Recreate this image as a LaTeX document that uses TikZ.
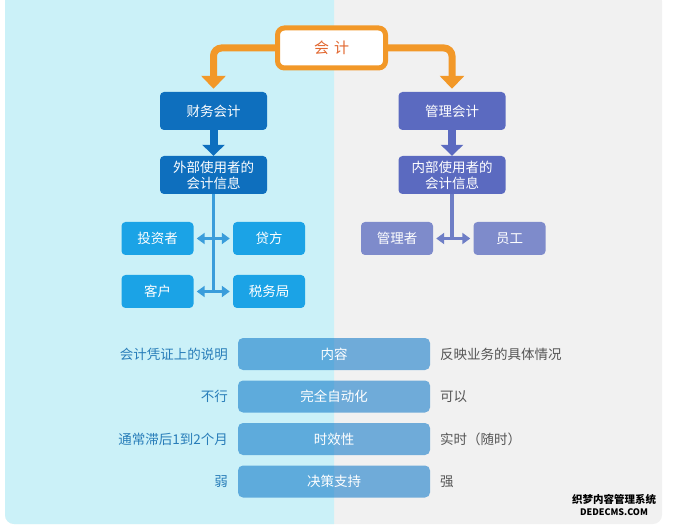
\documentclass[tikz,border=0pt]{standalone}
\usepackage{fontspec}
\setmainfont{Noto Sans CJK SC}
\usetikzlibrary{arrows.meta}
\definecolor{cyanbg}{RGB}{203,241,248}
\definecolor{graybg}{RGB}{241,241,241}
\definecolor{orng}{RGB}{242,152,40}
\definecolor{orngtxt}{RGB}{226,104,48}
\definecolor{dblue}{RGB}{14,111,190}
\definecolor{indigo}{RGB}{91,106,192}
\definecolor{sky}{RGB}{27,163,230}
\definecolor{lind}{RGB}{126,139,203}
\definecolor{lline}{RGB}{58,157,219}
\definecolor{rline}{RGB}{110,126,198}
\definecolor{barc}{RGB}{13,118,200}
\definecolor{lbl}{RGB}{40,125,185}
\definecolor{rlbl}{RGB}{85,85,85}
\tikzset{
  box/.style={rounded corners=4pt, minimum width=107pt, minimum height=38pt, text=white,
    font=\fontsize{13.5}{16}\selectfont, align=center, inner sep=0pt},
  sbox/.style={rounded corners=4pt, minimum width=72pt, minimum height=33pt, text=white,
    font=\fontsize{13.5}{16}\selectfont, inner sep=0pt},
  bar/.style={rounded corners=5pt, minimum width=192pt, minimum height=32pt, text=white,
    fill=barc, fill opacity=0.57, text opacity=1, font=\fontsize{13.5}{16}\selectfont, inner sep=0pt},
  llab/.style={anchor=east, text=lbl, font=\fontsize{13.5}{16}\selectfont, inner sep=0pt},
  rlab/.style={anchor=west, text=rlbl, font=\fontsize{13.5}{16}\selectfont, inner sep=0pt},
  orarrow/.style={draw=orng, line width=7pt, rounded corners=8pt, -{Triangle[width=24pt,length=13pt]}, shorten >=3pt},
  dbl/.style={line width=3.5pt, {Triangle[width=11pt,length=8pt]}-{Triangle[width=11pt,length=8pt]}, shorten >=3pt, shorten <=3pt}
}
\begin{document}
\begin{tikzpicture}[x=1pt,y=-1pt]
\useasboundingbox (0,0) rectangle (674,526);
% background panels
\fill[graybg, rounded corners=9pt] (5,-8) rectangle (662,524);
\begin{scope}
\clip (0,-10) rectangle (334,526);
\fill[cyanbg, rounded corners=9pt] (5,-8) rectangle (662,524);
\end{scope}

% top node
\node[draw=orng, line width=5pt, fill=white, rounded corners=7pt, minimum width=108pt, minimum height=40pt,
  text=orngtxt, font=\fontsize{15}{17}\selectfont, inner sep=0pt] (kj) at (331.5,48) {会\,\,计};

\node[box, fill=dblue] (cw) at (213.5,111) {财务会计};
\node[box, fill=indigo] (gl) at (452,111) {管理会计};
\node[box, fill=dblue] (wb) at (213.5,175) {外部使用者的\\会计信息};
\node[box, fill=indigo] (nb) at (452,175) {内部使用者的\\会计信息};

\draw[orarrow] (kj.west) -| (cw.north);
\draw[orarrow] (kj.east) -| (gl.north);

\draw[draw=dblue, line width=8pt, -{Triangle[width=22pt,length=11pt]}] (cw.south) -- (wb.north);
\draw[draw=indigo, line width=8pt, -{Triangle[width=22pt,length=11pt]}] (gl.south) -- (nb.north);

% left leaves
\node[sbox, fill=sky] (tz) at (157.5,238.5) {投资者};
\node[sbox, fill=sky] (df) at (269,238.5) {贷方};
\node[sbox, fill=sky] (kh) at (157.5,291.5) {客户};
\node[sbox, fill=sky] (sw) at (269,291.5) {税务局};
\coordinate (lend) at (213.5,293);
\draw[lline, line width=3.5pt] (wb.south) -- (lend);
\draw[lline, dbl] (tz.east) -- (df.west);
\draw[lline, dbl] (kh.east) -- (sw.west);

% right leaves
\node[sbox, fill=lind] (glz) at (397,238.5) {管理者};
\node[sbox, fill=lind] (yg) at (509.5,238.5) {员工};
\coordinate (rend) at (452,238.5);
\draw[rline, line width=3.5pt] (nb.south) -- (rend);
\draw[rline, dbl] (glz.east) -- (yg.west);

% comparison table
\node[bar] (b1) at (334,354) {内容};
\node[bar] (b2) at (334,396.5) {完全自动化};
\node[bar] (b3) at (334,439) {时效性};
\node[bar] (b4) at (334,481.5) {决策支持};

\node[llab] (l1) at (228,354) {会计凭证上的说明};
\node[llab] (l2) at (228,396.5) {不行};
\node[llab] (l3) at (228,439) {通常滞后1到2个月};
\node[llab] (l4) at (228,481.5) {弱};

\node[rlab] (r1) at (440,354) {反映业务的具体情况};
\node[rlab] (r2) at (440,396.5) {可以};
\node[rlab] (r3) at (440,439) {实时（随时）};
\node[rlab] (r4) at (440,481.5) {强};

% watermark
\node[font=\fontsize{10.5}{12}\selectfont\bfseries, text=black, inner sep=0pt] (wm1) at (614,499) {织梦内容管理系统};
\node[font=\fontsize{9}{10}\selectfont\bfseries, text=black, inner sep=0pt] (wm2) at (614,512) {DEDECMS.COM};
\end{tikzpicture}
\end{document}
